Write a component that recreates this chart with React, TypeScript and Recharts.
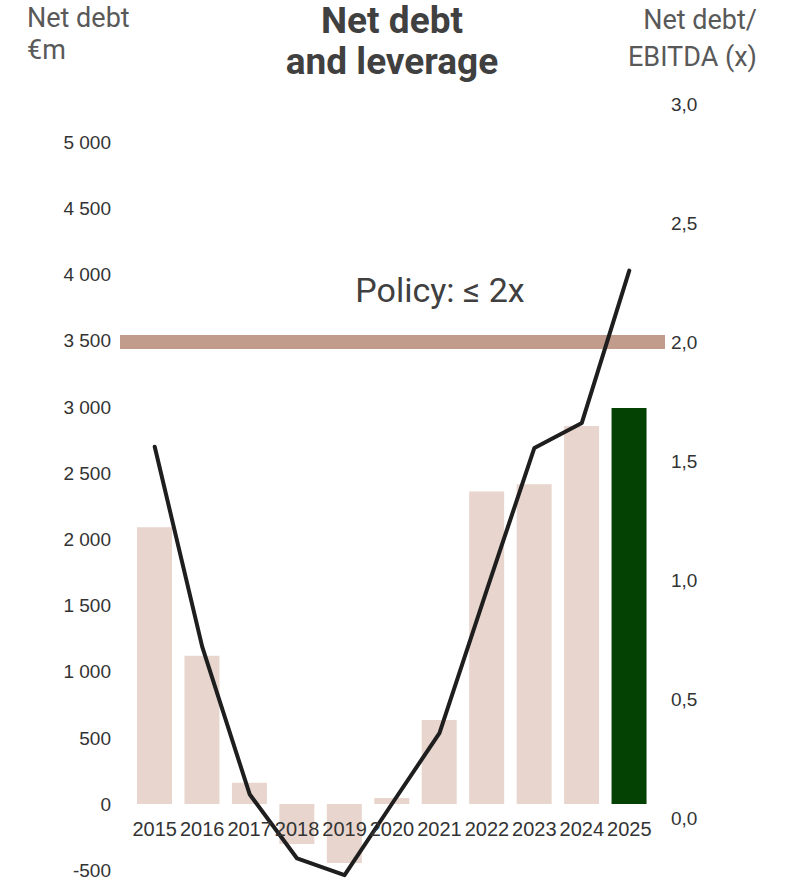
import { ComposedChart, Bar, Line, XAxis, YAxis, ReferenceLine, Cell } from "recharts";

const years = ["2015", "2016", "2017", "2018", "2019", "2020", "2021", "2022", "2023", "2024", "2025"];
const netDebt = [2090, 1120, 160, -302, -446, 45, 635, 2360, 2415, 2855, 2990];
const leverage = [1.56, 0.72, 0.1, -0.17, -0.24, 0.06, 0.357, 0.96, 1.555, 1.66, 2.3];
const leftTicks = [-500, 0, 500, 1000, 1500, 2000, 2500, 3000, 3500, 4000, 4500, 5000];
const rightTicks = [0, 0.5, 1, 1.5, 2, 2.5, 3];
const policyLevel = 2;

const data = years.map((year, i) => ({ year, netDebt: netDebt[i], leverage: leverage[i] }));

const BAR = "#e8d5cd";
const HIGHLIGHT = "#034203";
const TEXT = "#404040";
const TICK_FONT = "'Liberation Sans', Arial, sans-serif";
const HEAD_FONT = "Roboto, 'Noto Sans', sans-serif";

function fmtThousands(v: number): string {
  const s = Math.abs(v).toString().replace(/\B(?=(\d{3})+(?!\d))/g, " ");
  return v < 0 ? "-" + s : s;
}

// year labels sit on the zero line of the left axis, not at the plot bottom
function YearTick(props: any) {
  const { x, y, payload } = props;
  return (
    <text
      x={x}
      y={y - 49}
      textAnchor="middle"
      dominantBaseline="central"
      fill="#333"
      fontSize={20}
      fontFamily={TICK_FONT}
    >
      {payload?.value}
    </text>
  );
}

export default function App() {
  return (
    <div style={{ position: "absolute", left: 0, top: 0, width: 786, height: 881, background: "#fff" }}>
      <ComposedChart
        width={786}
        height={881}
        data={data}
        margin={{ top: 104, right: 0, bottom: 2, left: 0 }}
      >
        <XAxis
          dataKey="year"
          height={1}
          axisLine={false}
          tickLine={false}
          tickSize={0}
          tickMargin={0}
          interval={0}
          padding={{ left: 11, right: 12 }}
          tick={(p: any) => <YearTick {...p} />}
        />
        <YAxis
          yAxisId="left"
          width={120}
          domain={[-559, 5287]}
          allowDataOverflow
          ticks={leftTicks}
          interval={0}
          axisLine={false}
          tickLine={false}
          tickSize={0}
          tickMargin={9}
          tickFormatter={fmtThousands}
          tick={{ fill: "#333", fontSize: 19, fontFamily: TICK_FONT }}
        />
        <YAxis
          yAxisId="right"
          orientation="right"
          width={121}
          domain={[-0.252, 3]}
          allowDataOverflow
          ticks={rightTicks}
          interval={0}
          axisLine={false}
          tickLine={false}
          tickSize={0}
          tickMargin={6}
          tickFormatter={(v: number) => v.toFixed(1).replace(".", ",")}
          tick={{ fill: "#333", fontSize: 19, fontFamily: TICK_FONT }}
        />
        <ReferenceLine yAxisId="right" y={policyLevel} stroke="#c19b8c" strokeWidth={14} />
        <Bar yAxisId="left" dataKey="netDebt" barSize={35} isAnimationActive={false}>
          {data.map((d, i) => (
            <Cell key={d.year} fill={i === data.length - 1 ? HIGHLIGHT : BAR} />
          ))}
        </Bar>
        <Line
          yAxisId="right"
          type="linear"
          dataKey="leverage"
          stroke="#1e1e1e"
          strokeWidth={4}
          strokeLinecap="round"
          strokeLinejoin="round"
          dot={false}
          activeDot={false}
          isAnimationActive={false}
        />
      </ComposedChart>

      <div style={{ position: "absolute", left: 27, top: 2, fontFamily: HEAD_FONT, fontSize: 27, lineHeight: "32px", color: "#595959" }}>
        Net debt
        <br />
        €m
      </div>
      <div
        style={{
          position: "absolute",
          left: 192,
          width: 400,
          top: 0,
          textAlign: "center",
          fontFamily: HEAD_FONT,
          fontWeight: 700,
          fontSize: 37,
          lineHeight: "41px",
          color: TEXT,
        }}
      >
        Net debt
        <br />
        and leverage
      </div>
      <div
        style={{
          position: "absolute",
          right: 29,
          top: 2,
          textAlign: "right",
          fontFamily: HEAD_FONT,
          fontSize: 27,
          lineHeight: "37px",
          color: "#595959",
        }}
      >
        Net debt/
        <br />
        EBITDA (x)
      </div>
      <div
        style={{
          position: "absolute",
          left: 340,
          width: 200,
          top: 270,
          textAlign: "center",
          fontFamily: HEAD_FONT,
          fontSize: 34,
          lineHeight: "40px",
          color: TEXT,
        }}
      >
        Policy: ≤ 2x
      </div>
    </div>
  );
}
